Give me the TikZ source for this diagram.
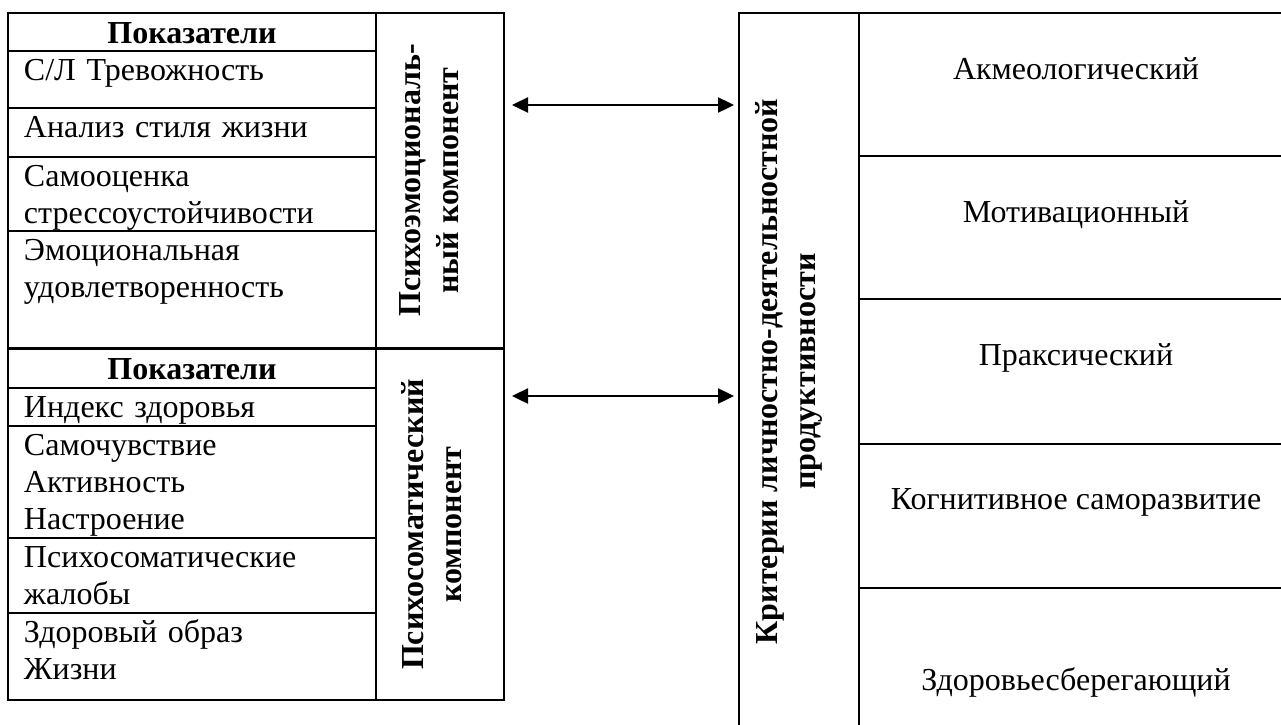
\documentclass[tikz,border=0pt]{standalone}
\usepackage{fontspec}
\setmainfont{Liberation Serif}
\usetikzlibrary{arrows.meta}

\tikzset{
  txt/.style={anchor=base west, inner sep=0pt, text width=170pt, align=left,
    font=\fontsize{16pt}{18.5pt}\selectfont},
  hdr/.style={anchor=base, inner sep=0pt, font=\fontsize{16pt}{18.5pt}\selectfont\bfseries},
  crit/.style={anchor=base, inner sep=0pt, font=\fontsize{16pt}{18.5pt}\selectfont},
  box/.style={draw, line width=1pt, inner sep=0pt},
  comp/.style={rotate=90, inner sep=0pt, align=center,
    font=\fontsize{16pt}{19pt}\selectfont\bfseries},
  link/.style={{Triangle[length=8pt,width=7.5pt]}-{Triangle[length=8pt,width=7.5pt]}, line width=1.2pt},
}

\begin{document}
\begin{tikzpicture}[x=0.5pt, y=-0.5pt, line width=1pt]
\useasboundingbox (0,0) rectangle (1281,724);
\clip (0,0) rectangle (1281,724);

% psychoemotional block
\draw (8,13) rectangle (376,348);
\draw (8,51) -- (376,51);
\draw (8,108) -- (376,108);
\draw (8,157) -- (376,157);
\draw (8,231) -- (376,231);
\node[box, minimum width=64pt, minimum height=167.5pt] (emobox) at (440,180.5) {};
\node[comp] (emocomp) at (429.5,180.5) {Психоэмоциональ-\\ный компонент};

\node[hdr] (pokaz1) at (192,43) {Показатели};
\node[txt] (trev) at (23,80) {С/Л Тревожность};
\node[txt] (stil) at (23,137) {Анализ стиля жизни};
\node[txt] (samoots) at (23,186) {Самооценка\\стрессоустойчивости};
\node[txt] (emoud) at (23,260) {Эмоциональная\\удовлетворенность};

% psychosomatic block
\draw (8,349) rectangle (376,700);
\draw (8,388) -- (376,388);
\draw (8,426) -- (376,426);
\draw (8,538) -- (376,538);
\draw (8,613) -- (376,613);
\node[box, minimum width=64pt, minimum height=175.5pt] (somabox) at (440,524.5) {};
\node[comp] (somacomp) at (432,524.5) {Психосоматический\\компонент};

\node[hdr] (pokaz2) at (192,379) {Показатели};
\node[txt] (indeks) at (23,417) {Индекс здоровья};
\node[txt] (samoch) at (23,455) {Самочувствие\\Активность\\Настроение};
\node[txt] (psyzhal) at (23,567) {Психосоматические\\жалобы};
\node[txt] (zoz) at (23,642) {Здоровый образ\\Жизни};

% criteria block
\node[box, minimum width=60pt, minimum height=358.5pt] (critbox) at (799,371.5) {};
\node[comp] (critcomp) at (788.5,371.5)
  {Критерии личностно-деятельностной\\продуктивности};
\draw (859,13) rectangle (1293,730);
\draw (859,156) -- (1293,156);
\draw (859,299) -- (1293,299);
\draw (859,444) -- (1293,444);
\draw (859,588) -- (1293,588);

\node[crit] (akme) at (1076,79) {Акмеологический};
\node[crit] (motiv) at (1076,222) {Мотивационный};
\node[crit] (praks) at (1076,365) {Праксический};
\node[crit] (kogn) at (1076,509) {Когнитивное саморазвитие};
\node[crit] (zdor) at (1076,690) {Здоровьесберегающий};

% links
\coordinate (y1) at (0,105);
\coordinate (y2) at (0,396);
\draw[link] ([xshift=3.5pt]emobox.east |- y1) -- ([xshift=-2pt]critbox.west |- y1);
\draw[link] ([xshift=3.5pt]somabox.east |- y2) -- ([xshift=-2pt]critbox.west |- y2);
\end{tikzpicture}
\end{document}
